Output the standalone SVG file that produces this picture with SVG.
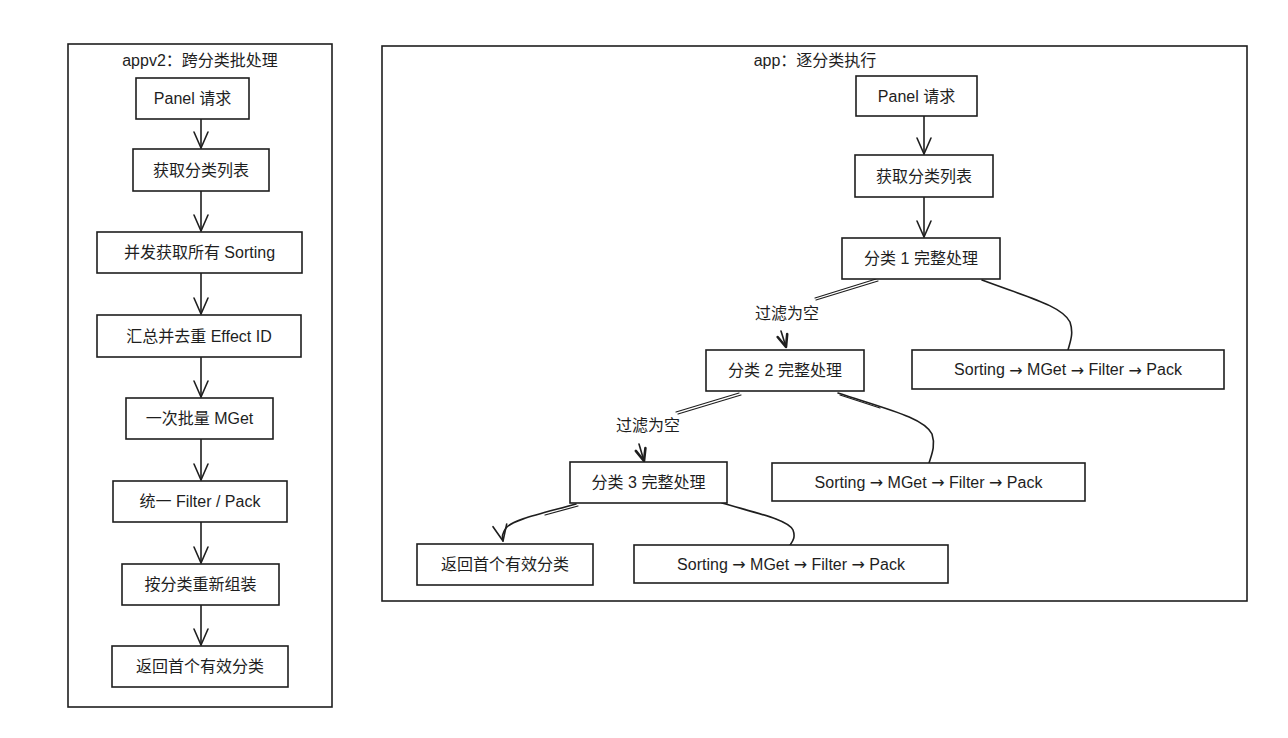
<svg xmlns="http://www.w3.org/2000/svg" width="1288" height="738" viewBox="0 0 1288 738">
<style>
  .frame{fill:none;stroke:#1e1e1e;stroke-width:1.6}
  .box{fill:#ffffff;stroke:#1e1e1e;stroke-width:1.6}
  .t{font-family:"Liberation Sans","Noto Sans CJK SC",sans-serif;font-size:16px;fill:#1e1e1e;text-anchor:middle;dominant-baseline:central}
  .ar{font-family:"DejaVu Sans",sans-serif}
  .c{fill:none;stroke:#1e1e1e;stroke-width:1.6;stroke-linecap:round}
  .cb{fill:none;stroke:#1e1e1e;stroke-width:1.2;stroke-linecap:round}
</style>
<defs>
  <marker id="ah" viewBox="-18 -9 20 18" markerWidth="20" markerHeight="18" refX="0" refY="0" orient="auto" markerUnits="userSpaceOnUse">
    <path d="M -16 -7 L 0 0 L -16 7" fill="none" stroke="#1e1e1e" stroke-width="1.6" stroke-linecap="round" stroke-linejoin="round"/>
  </marker>
  <marker id="ahb" viewBox="-14 -8 16 16" markerWidth="16" markerHeight="16" refX="0" refY="0" orient="auto" markerUnits="userSpaceOnUse">
    <path d="M -12 -5 L 0 0 L -12 5" fill="none" stroke="#1e1e1e" stroke-width="2.6" stroke-linecap="round" stroke-linejoin="round"/>
  </marker>
</defs>
<rect width="1288" height="738" fill="#ffffff"/>

<g id="frame-appv2">
  <rect class="frame" x="68" y="44" width="264" height="663"/>
  <text class="t" x="200" y="60">appv2：跨分类批处理</text>
</g>
<g id="frame-app">
  <rect class="frame" x="382" y="46" width="865" height="555"/>
  <text class="t" x="815" y="60">app：逐分类执行</text>
</g>

<g id="connectors">
  <path class="c" d="M201 119 L201 148" marker-end="url(#ah)"/>
  <path class="c" d="M201 191 L201 231" marker-end="url(#ah)"/>
  <path class="c" d="M201 273 L201 314" marker-end="url(#ah)"/>
  <path class="c" d="M201 357 L201 397" marker-end="url(#ah)"/>
  <path class="c" d="M201 439 L201 480" marker-end="url(#ah)"/>
  <path class="c" d="M201 522 L201 563" marker-end="url(#ah)"/>
  <path class="c" d="M201 605 L201 645" marker-end="url(#ah)"/>
  <path class="c" d="M924 116 L924 154" marker-end="url(#ah)"/>
  <path class="c" d="M924 197 L924 237" marker-end="url(#ah)"/>
  <path class="cb" d="M876 279 L815 298"/>
  <path class="cb" d="M878 281 L816 300"/>
  <path class="c" d="M781 331 L786 347" marker-end="url(#ahb)"/>
  <path class="c" d="M982 280 C1030 298 1062 306 1070 322 C1074 334 1070 342 1068 350"/>
  <path class="cb" d="M739 393 L676 412"/>
  <path class="cb" d="M741 395 L678 414"/>
  <path class="c" d="M639 444 L644 461" marker-end="url(#ahb)"/>
  <path class="c" d="M838 393 C890 410 924 418 932 434 C936 446 931 456 929 463"/>
  <path class="cb" d="M840 395 L880 408"/>
  <path class="c" d="M576 504 C540 514 512 520 506 528 C502 534 502 536 503 541" marker-end="url(#ah)"/>
  <path class="cb" d="M578 506 L545 515"/>
  <path class="c" d="M722 503 C760 514 788 520 793 530 C796 538 792 542 790 545"/>
</g>

<g id="l-panel"><rect class="box" x="136" y="78" width="113" height="41"/><text class="t" x="192.5" y="98.5">Panel 请求</text></g>
<g id="l-list"><rect class="box" x="133" y="149" width="136" height="42"/><text class="t" x="201" y="170">获取分类列表</text></g>
<g id="l-sorting"><rect class="box" x="97" y="232" width="205" height="41"/><text class="t" x="199.5" y="252.5">并发获取所有 Sorting</text></g>
<g id="l-dedupe"><rect class="box" x="97" y="315" width="204" height="42"/><text class="t" x="199" y="336">汇总并去重 Effect ID</text></g>
<g id="l-mget"><rect class="box" x="126" y="398" width="147" height="41"/><text class="t" x="199.5" y="418.5">一次批量 MGet</text></g>
<g id="l-filter"><rect class="box" x="113" y="481" width="174" height="41"/><text class="t" x="200" y="501.5">统一 Filter / Pack</text></g>
<g id="l-regroup"><rect class="box" x="122" y="564" width="157" height="41"/><text class="t" x="200.5" y="584.5">按分类重新组装</text></g>
<g id="l-return"><rect class="box" x="112" y="646" width="176" height="41"/><text class="t" x="200" y="666.5">返回首个有效分类</text></g>

<g id="r-panel"><rect class="box" x="856" y="76" width="121" height="40"/><text class="t" x="916.5" y="96">Panel 请求</text></g>
<g id="r-list"><rect class="box" x="855" y="155" width="138" height="42"/><text class="t" x="924" y="176">获取分类列表</text></g>
<g id="r-cat1"><rect class="box" x="842" y="238" width="158" height="41"/><text class="t" x="921" y="258.5">分类 1 完整处理</text></g>
<g id="r-label1"><text class="t" x="787" y="313">过滤为空</text></g>
<g id="r-cat2"><rect class="box" x="706" y="350" width="158" height="41"/><text class="t" x="785" y="370.5">分类 2 完整处理</text></g>
<g id="r-sort1"><rect class="box" x="912" y="350" width="312" height="39"/><text class="t" x="1068" y="369.5">Sorting <tspan class="ar">→</tspan> MGet <tspan class="ar">→</tspan> Filter <tspan class="ar">→</tspan> Pack</text></g>
<g id="r-label2"><text class="t" x="648" y="425">过滤为空</text></g>
<g id="r-cat3"><rect class="box" x="570" y="462" width="157" height="41"/><text class="t" x="648.5" y="482.5">分类 3 完整处理</text></g>
<g id="r-sort2"><rect class="box" x="772" y="463" width="313" height="38"/><text class="t" x="928.5" y="482">Sorting <tspan class="ar">→</tspan> MGet <tspan class="ar">→</tspan> Filter <tspan class="ar">→</tspan> Pack</text></g>
<g id="r-return"><rect class="box" x="417" y="544" width="176" height="41"/><text class="t" x="505" y="564.5">返回首个有效分类</text></g>
<g id="r-sort3"><rect class="box" x="634" y="545" width="314" height="38"/><text class="t" x="791" y="564">Sorting <tspan class="ar">→</tspan> MGet <tspan class="ar">→</tspan> Filter <tspan class="ar">→</tspan> Pack</text></g>
</svg>
